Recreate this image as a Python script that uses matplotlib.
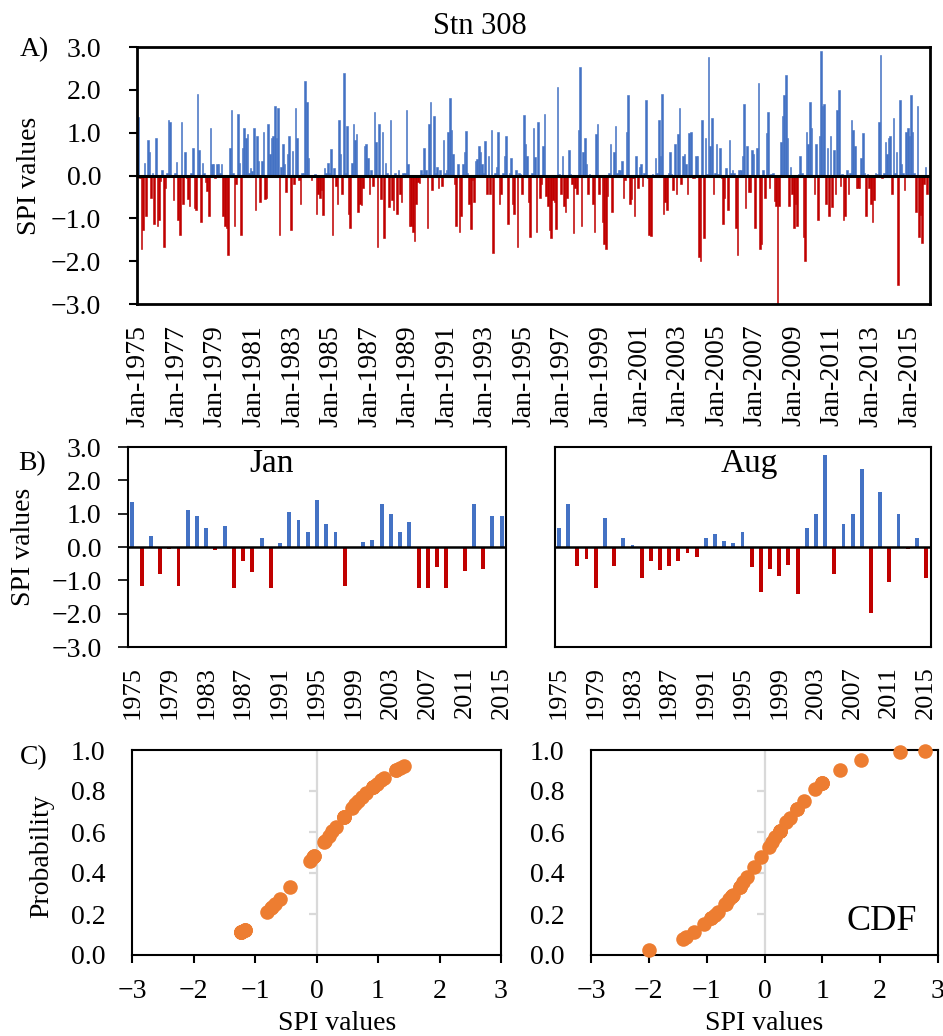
import numpy as np
import matplotlib
matplotlib.use("Agg")
import matplotlib.pyplot as plt
from matplotlib.ticker import FuncFormatter, MultipleLocator

plt.rcParams['font.family'] = ['Liberation Serif', 'DejaVu Serif']

BLUE = '#4472C4'
RED = '#C00000'
ORANGE = '#ED7D31'
GREY = '#D9D9D9'

W, H = 943, 1036

years = list(range(1975, 2016))

# monthly SPI, Jan 1975 - Dec 2015, one row per year
spi_monthly = [
    1.36, -0.06, -1.71, -1.28, 0.30, -0.95, 0.83, 0.56, -0.53, 0.05, -1.14, 0.87,   # 1975
    -1.17, -1.05, -0.12, 0.12, -1.66, -0.29, 0.05, 1.30, 1.25, -0.04, -0.57, 0.05,  # 1976
    0.32, -1.05, -1.38, 1.25, -0.67, 0.55, -0.05, -0.56, -0.72, 0.05, 0.64, -0.76,  # 1977
    -0.80, 1.91, 0.60, -1.09, 0.30, 0.07, -0.15, -0.37, -0.95, 1.10, 0.26, 0.26,    # 1978
    -0.05, 0.26, 0.26, 0.05, 0.26, -0.95, -1.19, -1.22, -1.85, 0.64, 1.53, 0.05,    # 1979
    -1.17, -0.20, 1.44, 0.30, -1.38, 0.64, 1.10, 0.87, 0.97, 0.05, 0.17, 0.10,      # 1980
    1.10, -0.81, 0.92, 0.35, -0.62, 0.35, 1.02, -0.56, -0.53, 1.20, 0.50, 0.87,     # 1981
    0.92, 1.63, 0.87, 1.58, -1.38, 0.21, 0.73, 0.26, -0.39, 0.50, 0.92, -1.28,      # 1982
    0.57, -0.20, 1.58, 0.87, -0.10, -0.67, 0.05, 0.07, 2.20, 1.72, 0.40, 0.02,      # 1983
    -0.10, 0.02, 0.03, -0.91, -0.43, -0.53, -0.34, -0.92, 0.17, 0.05, 0.30, 0.05,   # 1984
    0.63, -1.38, 0.17, -0.25, -0.67, 1.30, 0.50, -0.43, 2.39, 0.05, 1.16, -0.91,    # 1985
    -1.22, 0.30, 1.20, 0.83, 0.97, -0.86, -0.67, -0.68, -0.29, 0.69, 0.73, 0.40,    # 1986
    -0.43, 0.12, -0.25, 1.49, 0.78, -1.66, 1.20, -0.56, 1.02, -1.47, 0.30, 0.05,    # 1987
    -0.74, 1.30, -0.57, -0.81, 0.05, -0.91, 0.12, -0.43, -0.62, 0.05, 0.05, 1.54,   # 1988
    0.26, -1.19, -1.19, -1.33, -1.52, -0.67, -0.15, -0.18, 0.12, 0.03, 0.64, 0.12,  # 1989
    -1.22, 1.20, 1.72, -0.34, 1.39, 0.05, 0.21, -0.30, 0.12, -0.25, 0.83, 0.05,     # 1990
    0.13, 1.02, 1.82, 1.06, 0.50, -0.20, -1.19, 0.26, -1.33, -0.95, 0.26, 0.54,     # 1991
    1.05, 0.05, -0.67, -1.24, -0.10, -0.62, 0.35, 0.38, 0.69, 0.54, 0.26, 0.05,     # 1992
    0.80, -0.43, 0.45, -0.43, 1.06, -1.80, 0.05, 0.19, 1.02, -0.67, -0.43, 0.05,    # 1993
    0.45, 0.92, -1.14, 0.05, 0.40, -0.67, -0.91, 0.13, -1.66, 0.05, 0.03, -0.43,    # 1994
    1.42, 0.73, 0.45, -0.62, -1.43, 0.05, 1.10, 0.44, -1.33, 1.25, -0.53, -0.20,    # 1995
    0.68, 1.44, -0.48, -0.72, -1.28, -1.47, -0.57, -0.61, -1.24, 2.06, 0.03, -0.43, # 1996
    0.45, -0.72, -0.86, -0.53, 0.59, 0.03, -0.20, -1.35, -0.29, -0.43, 1.06, 2.53,  # 1997
    -1.17, 0.54, 0.87, 0.26, -0.43, 0.03, 0.02, -0.67, -1.33, 0.97, 1.20, -0.43,    # 1998
    -0.04, -1.09, -1.61, -1.71, -0.48, 0.05, 0.73, -0.86, 0.54, 1.16, 0.05, 0.12,   # 1999
    0.14, 0.35, -0.53, -0.10, 1.02, 1.87, -0.67, -0.55, -0.06, -0.95, 0.45, -0.29,  # 2000
    0.20, 0.26, -0.25, 0.07, 1.77, -0.06, -1.38, -1.41, 0.03, 0.02, 0.40, 0.05,     # 2001
    1.30, 0.45, 1.91, -0.91, -0.62, -0.81, 0.05, 0.56, 0.03, -0.34, 0.73, -0.43,    # 2002
    0.98, 1.58, -0.20, 0.45, 0.50, 0.26, -0.43, 0.99, 1.02, -0.06, -0.06, 0.45,     # 2003
    0.45, -1.90, -1.99, 1.30, -1.47, 0.87, 0.03, 2.77, 0.69, 1.35, -0.43, 0.05,     # 2004
    0.74, 0.03, 0.64, -0.06, -1.14, -0.53, 0.17, -0.80, 0.83, 0.05, 0.12, 0.05,     # 2005
    -1.22, -1.85, 0.12, 0.12, 0.45, 1.68, -0.76, 0.68, -0.39, -0.39, 0.59, 0.50,    # 2006
    -1.22, 0.64, 2.15, -1.71, -1.61, 0.12, -0.53, 0.99, 1.49, -0.29, 0.03, 0.05,    # 2007
    -0.60, -0.72, -3.00, -0.72, 0.78, 1.39, 1.87, 2.34, 0.87, -0.72, 0.20, -0.43,   # 2008
    -1.22, -0.67, -1.19, 0.03, 0.45, 0.05, -1.43, -1.99, 1.02, 0.73, 1.72, 1.10,    # 2009
    -0.04, -0.43, 0.73, -1.05, 0.92, 2.90, 1.63, 1.66, -0.67, 0.64, -0.95, 0.92,    # 2010
    -0.73, 0.59, -0.43, 1.54, 2.00, -0.25, 0.03, -1.04, -0.95, 0.12, -0.43, 0.05,   # 2011
    1.30, 1.06, 0.69, -0.29, -0.29, -0.29, 0.40, 0.99, 0.05, -0.95, 0.03, -0.29,    # 2012
    -0.67, -1.09, -0.57, 0.05, 0.03, 1.25, 2.81, -0.06, 0.05, 0.78, 0.50, 0.87,     # 2013
    0.92, -0.43, 1.35, 0.05, 0.54, -2.56, 1.77, 0.26, 0.05, -0.34, 1.02, 1.10,      # 2014
    0.92, 1.87, 1.02, 0.05, -0.86, 1.63, -1.43, -0.92, -1.57, -0.20, 0.21, -0.43,   # 2015
]

jan_spi = [1.36, -1.17, 0.32, -0.80, -0.05, -1.17, 1.10, 0.92, 0.57, -0.10, 0.63,
           -1.22, -0.43, -0.74, 0.26, -1.22, 0.13, 1.05, 0.80, 0.45, 1.42, 0.68,
           0.45, -1.17, -0.04, 0.14, 0.20, 1.30, 0.98, 0.45, 0.74, -1.22, -1.22,
           -0.60, -1.22, -0.04, -0.73, 1.30, -0.67, 0.92, 0.92]

aug_spi = [0.56, 1.30, -0.56, -0.37, -1.22, 0.87, -0.56, 0.26, 0.07, -0.92, -0.43,
           -0.68, -0.56, -0.43, -0.18, -0.30, 0.26, 0.38, 0.19, 0.13, 0.44, -0.61,
           -1.35, -0.67, -0.86, -0.55, -1.41, 0.56, 0.99, 2.77, -0.80, 0.68, 0.99,
           2.34, -1.99, 1.66, -1.04, 0.99, -0.06, 0.26, -0.92]

# CDF points (sorted SPI, probability)
jan_cdf_x = [-1.22, -1.22, -1.22, -1.22, -1.22, -1.17, -1.17, -1.17, -0.80, -0.74,
             -0.73, -0.67, -0.60, -0.43, -0.10, -0.05, -0.04, -0.04, 0.13, 0.14,
             0.20, 0.26, 0.32, 0.45, 0.45, 0.45, 0.57, 0.63, 0.68, 0.74, 0.80,
             0.92, 0.92, 0.92, 0.98, 1.05, 1.10, 1.30, 1.30, 1.36, 1.42]
jan_cdf_p = [0.111, 0.111, 0.111, 0.111, 0.111, 0.121, 0.121, 0.121, 0.212, 0.230,
             0.233, 0.251, 0.274, 0.334, 0.460, 0.480, 0.484, 0.484, 0.552, 0.556,
             0.579, 0.603, 0.626, 0.674, 0.674, 0.674, 0.716, 0.736, 0.752, 0.770,
             0.788, 0.821, 0.821, 0.821, 0.836, 0.853, 0.864, 0.903, 0.903, 0.913,
             0.922]

aug_cdf_x = [-1.99, -1.41, -1.35, -1.22, -1.04, -0.92, -0.92, -0.86, -0.80, -0.68,
             -0.67, -0.61, -0.56, -0.56, -0.56, -0.55, -0.43, -0.43, -0.37, -0.30,
             -0.18, -0.06, 0.07, 0.13, 0.19, 0.26, 0.26, 0.26, 0.38, 0.44, 0.56,
             0.56, 0.68, 0.87, 0.99, 0.99, 0.99, 1.30, 1.66, 2.34, 2.77]
aug_cdf_p = [0.023, 0.079, 0.089, 0.111, 0.149, 0.179, 0.179, 0.195, 0.212, 0.248,
             0.251, 0.271, 0.288, 0.288, 0.288, 0.291, 0.334, 0.334, 0.356, 0.382,
             0.429, 0.476, 0.528, 0.552, 0.575, 0.603, 0.603, 0.603, 0.648, 0.670,
             0.712, 0.712, 0.752, 0.808, 0.839, 0.839, 0.839, 0.903, 0.952, 0.990,
             0.997]


def minus_fmt(fmt):
    return FuncFormatter(lambda v, pos: (fmt % (v + 0.0)).replace('-', '\u2212'))


def px_axes(fig, left, top, right, bottom):
    return fig.add_axes([left / W, 1 - bottom / H, (right - left) / W, (bottom - top) / H])


def spi_bars(ax, x, vals, width, zero_lw, edge_lw=0):
    vals = np.asarray(vals)
    colors = np.where(vals >= 0, BLUE, RED)
    ax.bar(x, vals, width=width, color=colors, edgecolor=colors,
           linewidth=edge_lw, zorder=2)
    ax.axhline(0, color='black', lw=zero_lw, zorder=3)
    ax.set_ylim(-3, 3)
    ax.yaxis.set_major_locator(MultipleLocator(1))
    ax.yaxis.set_major_formatter(minus_fmt('%.1f'))


fig = plt.figure(figsize=(W / 100, H / 100), dpi=100)

# ---- A) monthly series
ax_a = px_axes(fig, 137, 47, 930, 304)
months = np.arange(len(spi_monthly))
spi_bars(ax_a, months, spi_monthly, 1.0, 2.2, edge_lw=0.4)
ax_a.set_xlim(-0.7, 492.8)
ax_a.set_xticks(months[::24])
ax_a.set_xticklabels(['Jan-%d' % y for y in years[::2]], rotation=90)
ax_a.tick_params(axis='x', length=0, pad=15, labelsize=20)
ax_a.tick_params(axis='y', direction='out', length=5.8, width=1.5, pad=20, labelsize=20)
for s in ax_a.spines.values():
    s.set_linewidth(2)

fig.text(480 / W, 1 - 27 / H, 'Stn 308', ha='center', va='center', fontsize=22)
fig.text(20 / W, 1 - 50 / H, 'A)', ha='left', va='center', fontsize=20)
fig.text(30 / W, 1 - 176 / H, 'SPI values', rotation=90, ha='center', va='center', fontsize=20)

# ---- B) January and August
ax_b1 = px_axes(fig, 128, 447, 506, 647)
spi_bars(ax_b1, years, jan_spi, 0.42, 1.8)
ax_b1.set_xlim(1974.53, 2015.47)
ax_b2 = px_axes(fig, 555, 447, 931, 647)
spi_bars(ax_b2, years, aug_spi, 0.42, 1.8)
ax_b2.set_xlim(1974.56, 2015.54)
for ax in (ax_b1, ax_b2):
    ax.set_xticks(years[::4])
    ax.set_xticklabels([str(y) for y in years[::4]], rotation=90)
    ax.tick_params(axis='x', length=0, pad=14, labelsize=19)
    for s in ax.spines.values():
        s.set_linewidth(1.5)
ax_b1.tick_params(axis='y', direction='out', length=7, width=1.2, pad=12, labelsize=20)
ax_b2.tick_params(axis='y', length=0, labelleft=False)
ax_b1.text(0.381, 0.915, 'Jan', transform=ax_b1.transAxes, ha='center', va='center', fontsize=24)
ax_b2.text(0.516, 0.915, 'Aug', transform=ax_b2.transAxes, ha='center', va='center', fontsize=24)

fig.text(18 / W, 1 - 464 / H, 'B)', ha='left', va='center', fontsize=20)
fig.text(24 / W, 1 - 547 / H, 'SPI values', rotation=90, ha='center', va='center', fontsize=20)

# ---- C) CDF
ax_c1 = px_axes(fig, 132, 750, 501, 955)
ax_c2 = px_axes(fig, 591, 750, 938, 955)
for ax, xs, ps in ((ax_c1, jan_cdf_x, jan_cdf_p), (ax_c2, aug_cdf_x, aug_cdf_p)):
    ax.axvline(0, color=GREY, lw=1.6, zorder=1)
    ax.hlines(np.arange(0.2, 0.9, 0.2), -0.13, 0, color=GREY, lw=1.6, zorder=1)
    ax.scatter(xs, ps, s=110, color=ORANGE, linewidths=0, zorder=3, clip_on=False)
    ax.set_xlim(-3, 3)
    ax.set_ylim(0, 1)
    ax.xaxis.set_major_locator(MultipleLocator(1))
    ax.xaxis.set_major_formatter(minus_fmt('%d'))
    ax.yaxis.set_major_locator(MultipleLocator(0.2))
    ax.yaxis.set_major_formatter(minus_fmt('%.1f'))
    ax.tick_params(axis='x', direction='out', length=6, width=1.5, pad=11, labelsize=20)
    ax.tick_params(axis='y', length=0, pad=19, labelsize=20)
    for s in ax.spines.values():
        s.set_linewidth(1.5)

fig.text(337 / W, 1 - 1024 / H, 'SPI values', ha='center', va='center', fontsize=20)
fig.text(764 / W, 1 - 1024 / H, 'SPI values', ha='center', va='center', fontsize=20)
fig.text(42 / W, 1 - 856 / H, 'Probability', rotation=90, ha='center', va='center', fontsize=20)
fig.text(20 / W, 1 - 758 / H, 'C)', ha='left', va='center', fontsize=20)
ax_c2.text(0.839, 0.161, 'CDF', transform=ax_c2.transAxes, ha='center', va='center', fontsize=26)

fig.savefig('out.png', dpi=100)
